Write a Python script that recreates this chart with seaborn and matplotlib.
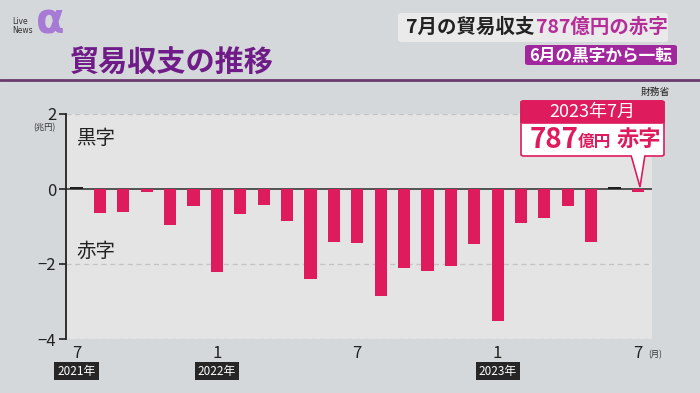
import matplotlib
matplotlib.use("Agg")
import matplotlib.pyplot as plt
import matplotlib.patches as mpatches
import seaborn as sns
import pandas as pd

# trade balance, trillion yen, Jul 2021 - Jul 2023
months = ["2021-07", "2021-08", "2021-09", "2021-10", "2021-11", "2021-12",
          "2022-01", "2022-02", "2022-03", "2022-04", "2022-05", "2022-06",
          "2022-07", "2022-08", "2022-09", "2022-10", "2022-11", "2022-12",
          "2023-01", "2023-02", "2023-03", "2023-04", "2023-05", "2023-06",
          "2023-07"]
balance = [0.05, -0.64, -0.62, -0.07, -0.96, -0.45,
           -2.21, -0.67, -0.42, -0.85, -2.40, -1.40,
           -1.45, -2.84, -2.11, -2.18, -2.04, -1.46,
           -3.52, -0.91, -0.77, -0.44, -1.40, 0.05,
           -0.08]
tick_pos = [0, 6, 12, 18, 24]
tick_labels = ["7", "1", "7", "1", "7"]
year_labels = {0: "2021年", 6: "2022年", 18: "2023年"}

df = pd.DataFrame({"month": months, "value": balance})
df["sign"] = ["surplus" if v > 0 else "deficit" for v in balance]

sns.set_theme(style="white")
plt.rcParams["font.family"] = ["Noto Sans CJK JP", "DejaVu Sans"]

W, H = 700, 393
BG = "#d5d8da"
PINK = "#de1b5c"
PURPLE = "#6f1c88"

fig = plt.figure(figsize=(7, 3.93), dpi=100, facecolor=BG)


def fx(x):
    return x / W


def fy(y):
    return 1 - y / H


ax = fig.add_axes([fx(66), fy(339), fx(652) - fx(66), fy(114) - fy(339)])
ax.set_facecolor("#e4e4e4")

sns.barplot(data=df, x="month", y="value", hue="sign",
            palette={"surplus": "#1e1e1e", "deficit": PINK},
            width=0.52, dodge=False, legend=False, ax=ax, saturation=1,
            linewidth=0)
for p in ax.patches:
    p.set_zorder(4)

ax.set_xlim(-0.45, 24.6)
ax.set_ylim(-4, 2)
for v in [2, -2, -4]:
    ax.axhline(v, color="#c4c4c4", lw=0.9, ls=(0, (4, 3)), zorder=0)
ax.axhline(0, color="#2a2a2a", lw=1.1, zorder=3)

for s in ["top", "right", "bottom"]:
    ax.spines[s].set_visible(False)
ax.spines["left"].set_color("#222222")
ax.spines["left"].set_linewidth(1.3)

ax.set_yticks([2, 0, -2, -4])
ax.set_yticklabels(["2", "0", "−2", "−4"])
ax.tick_params(axis="y", length=5, width=1.2, color="#222222", labelsize=12,
               labelcolor="#222222", pad=2, left=True)
ax.set_xticks(tick_pos)
ax.set_xticklabels(tick_labels)
ax.tick_params(axis="x", length=0, labelsize=12, labelcolor="#222222", pad=4)
ax.set_xlabel("")
ax.set_ylabel("")

ax.text(0.0, 1.35, "黒字", fontsize=14, color="#222222", va="center", ha="left")
ax.text(0.0, -1.65, "赤字", fontsize=14, color="#222222", va="center", ha="left")

# small unit labels
fig.text(fx(56), fy(128), "(兆円)", fontsize=6, color="#333333", ha="right", va="center")
fig.text(fx(648), fy(355), "(月)", fontsize=6, color="#333333", ha="left", va="center")

# year badges
for i, lab in year_labels.items():
    xd = ax.transData.transform((i, 0))[0] / fig.dpi / 7
    fig.text(xd, fy(371), lab, fontsize=8.5, color="white", ha="center", va="center",
             bbox=dict(boxstyle="square,pad=0.25", fc="#262626", ec="none"))

# title and rule
fig.text(fx(70), fy(62), "貿易収支の推移", fontsize=21, color=PURPLE,
         fontweight="bold", ha="left", va="center")
fig.add_artist(plt.Line2D([0, 1], [fy(80), fy(80)], color="#6b3b6d", lw=2))

# logo
fig.text(fx(50), fy(22), "α", fontsize=30, color="#a77ad6", ha="center",
         va="center", fontweight="bold", family="DejaVu Sans")
fig.text(fx(12), fy(26), "Live\nNews", fontsize=5.5, color="#333333",
         ha="left", va="center", linespacing=0.9, family="DejaVu Sans")

# headline boxes
fig.add_artist(mpatches.FancyBboxPatch((fx(398), fy(42)), fx(270), fy(13) - fy(42),
               boxstyle="round,pad=0,rounding_size=0.006", fc="#ededed", ec="none", alpha=0.9))
fig.text(fx(406), fy(27), "7月の貿易収支", fontsize=14, color="#222222",
         fontweight="bold", ha="left", va="center")
fig.text(fx(536), fy(27), "787億円の赤字", fontsize=14, color="#b52d98",
         fontweight="bold", ha="left", va="center")
fig.add_artist(mpatches.FancyBboxPatch((fx(525), fy(65)), fx(152), fy(45) - fy(65),
               boxstyle="round,pad=0,rounding_size=0.005", fc="#a1279d", ec="none"))
fig.text(fx(601), fy(55), "6月の黒字から一転", fontsize=12, color="white",
         fontweight="bold", ha="center", va="center")

fig.text(fx(670), fy(92), "財務省", fontsize=7, color="#222222", ha="right", va="center")

# callout
fig.add_artist(mpatches.Polygon([(fx(631), fy(155)), (fx(645), fy(155)), (fx(640), fy(187))],
               closed=True, fc="white", ec=PINK, lw=1.2))
fig.add_artist(mpatches.FancyBboxPatch((fx(521), fy(156)), fx(143), fy(101) - fy(156),
               boxstyle="round,pad=0,rounding_size=0.004", fc="white", ec=PINK, lw=1.2))
fig.add_artist(mpatches.FancyBboxPatch((fx(521), fy(123)), fx(143), fy(101) - fy(123),
               boxstyle="round,pad=0,rounding_size=0.004", fc=PINK, ec=PINK, lw=1.2))
fig.add_artist(mpatches.Rectangle((fx(632), fy(157)), fx(12), fy(153) - fy(157),
               fc="white", ec="none"))
fig.text(fx(592), fy(112), "2023年7月", fontsize=13, color="white",
         ha="center", va="center")
fig.text(fx(530), fy(140), "787", fontsize=20, color=PINK, fontweight="bold",
         ha="left", va="center")
fig.text(fx(578), fy(142), "億円", fontsize=12, color=PINK, fontweight="bold",
         ha="left", va="center")
fig.text(fx(617), fy(140), "赤字", fontsize=16, color=PINK, fontweight="bold",
         ha="left", va="center")

fig.savefig("out.png", dpi=100, facecolor=BG)
